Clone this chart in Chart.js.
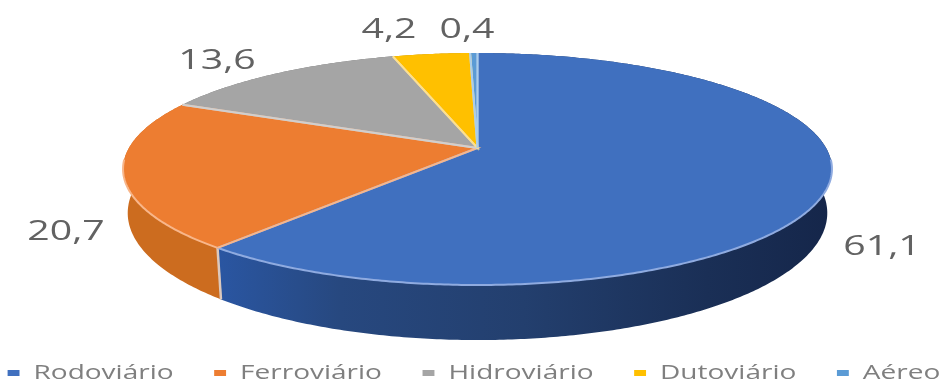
<!DOCTYPE html>
<html>
<head>
<meta charset="utf-8">
<script src="https://cdn.jsdelivr.net/npm/chart.js@4"></script>
<style>
  html, body { margin: 0; background: #fff; }
  canvas { display: block; }
</style>
</head>
<body>
<canvas id="myChart" width="942" height="383"></canvas>
<script>
const categories = ["Rodoviário", "Ferroviário", "Hidroviário", "Dutoviário", "Aéreo"];
const shares = [61.1, 20.7, 13.6, 4.2, 0.4];

const topColors = ["#4070bf", "#ed7d31", "#a5a5a5", "#ffc000", "#5b9bd5"];
const rimColors = ["#8fabe0", "#f8b68a", "#cfcfcf", "#ffe08a", "#a9cdec"];
const wallColors = ["#1b3158", "#cc6c1f", "#777777", "#bf9000", "#3f77a8"];

// text is wide in this chart, so everything but the disc is drawn stretched
const stretch = 1.4;

// perspective of the disc, in canvas pixels
const disc = { cx: 477.5, apexY: 148, radius: 348.6, k: 112.2, tilt: 0.181 };
const floor = { cx: 477.5, apexY: 190, radius: 344, k: 122.9, tilt: 0.181 };

// only the front of the disc has a light rim
const rimFrom = Math.PI / 2 + 0.1;
const rimTo = Math.PI * 1.5 - 0.1;

// centres of the value labels
const labelSpots = [[882, 247], [66, 232], [217, 61], [389, 30], [467, 30]];

function project(plane, theta) {
  const u = Math.sin(theta);
  const v = -Math.cos(theta);
  const d = 1 - plane.tilt * v;
  return [plane.cx + plane.radius * u / d, plane.apexY + plane.k * v / d];
}

// arc angles from Chart.js start at -90deg, here 0 is the top of the disc
function arcRange(arc) {
  return [arc.startAngle + Math.PI / 2, arc.endAngle + Math.PI / 2];
}

function arcPoints(plane, from, to) {
  const steps = Math.max(2, Math.ceil((to - from) / 0.01));
  const pts = [];
  for (let i = 0; i <= steps; i++) {
    pts.push(project(plane, from + (to - from) * i / steps));
  }
  return pts;
}

function trace(ctx, pts) {
  pts.forEach(p => ctx.lineTo(p[0], p[1]));
}

function drawWall(ctx, arc, index) {
  const [from, to] = arcRange(arc);
  ctx.beginPath();
  trace(ctx, arcPoints(disc, from, to));
  trace(ctx, arcPoints(floor, from, to).reverse());
  ctx.closePath();
  if (index === 0) {
    const g = ctx.createLinearGradient(218, 0, 830, 0);
    g.addColorStop(0, "#2a56a2");
    g.addColorStop(0.2, "#27487f");
    g.addColorStop(0.5, "#233f6e");
    g.addColorStop(0.8, "#1a2f56");
    g.addColorStop(1, "#15264a");
    ctx.fillStyle = g;
  } else {
    ctx.fillStyle = wallColors[index];
  }
  ctx.fill();
}

function drawTop(ctx, arc) {
  const [from, to] = arcRange(arc);
  ctx.beginPath();
  ctx.moveTo(disc.cx, disc.apexY);
  trace(ctx, arcPoints(disc, from, to));
  ctx.closePath();
  ctx.fillStyle = arc.options.backgroundColor;
  ctx.fill();
}

function drawEdges(ctx, arc) {
  const [from, to] = arcRange(arc);
  const start = project(disc, from);
  const end = project(disc, to);
  ctx.strokeStyle = arc.options.borderColor;
  ctx.lineWidth = arc.options.borderWidth;
  ctx.beginPath();
  ctx.moveTo(start[0], start[1]);
  ctx.lineTo(disc.cx, disc.apexY);
  ctx.lineTo(end[0], end[1]);
  ctx.stroke();
  const a = Math.max(from, rimFrom);
  const b = Math.min(to, rimTo);
  if (b > a) {
    ctx.beginPath();
    trace(ctx, arcPoints(disc, a, b));
    ctx.stroke();
  }
}

const pie3d = {
  id: "pie3d",
  beforeDraw(chart) {
    const ctx = chart.ctx;
    ctx.save();
    // moves the legend row down to the edge and flush left
    ctx.translate(-33, 10);
    ctx.scale(stretch, 1);
  },
  beforeDatasetsDraw(chart) {
    const ctx = chart.ctx;
    const arcs = chart.getDatasetMeta(0).data;
    ctx.save();
    ctx.setTransform(1, 0, 0, 1, 0, 0);

    arcs.forEach((arc, i) => drawWall(ctx, arc, i));

    // seam between the two visible wall pieces
    const seam = arcRange(arcs[0])[1];
    const a = project(disc, seam);
    const b = project(floor, seam);
    ctx.beginPath();
    ctx.moveTo(a[0], a[1]);
    ctx.lineTo(b[0], b[1]);
    ctx.strokeStyle = "#dcc8bc";
    ctx.lineWidth = 2.5;
    ctx.stroke();

    arcs.forEach(arc => drawTop(ctx, arc));
    arcs.forEach(arc => drawEdges(ctx, arc));

    // value labels
    ctx.fillStyle = "#626262";
    ctx.font = "28px 'Open Sans'";
    ctx.textAlign = "center";
    ctx.textBaseline = "middle";
    shares.forEach((v, i) => {
      ctx.save();
      ctx.translate(labelSpots[i][0], labelSpots[i][1]);
      ctx.scale(stretch, 1);
      ctx.fillText(v.toFixed(1).replace(".", ","), 0, 0);
      ctx.restore();
    });
    ctx.restore();
    return false;
  },
  afterDraw(chart) {
    chart.ctx.restore();
  }
};

const myChart = new Chart(document.querySelector("#myChart").getContext("2d"), {
  type: "pie",
  data: {
    labels: categories,
    datasets: [{
      data: shares,
      backgroundColor: topColors,
      borderColor: rimColors,
      borderWidth: 2
    }]
  },
  options: {
    responsive: false,
    animation: false,
    layout: { padding: { right: 100 } },
    plugins: {
      tooltip: { enabled: false },
      legend: {
        position: "bottom",
        align: "start",
        labels: {
          usePointStyle: true,
          pointStyle: "rect",
          pointStyleWidth: 8.5,
          boxHeight: 6,
          padding: 29,
          color: "#7f7f7f",
          font: { family: "'Open Sans'", size: 20 },
          generateLabels(chart) {
            const items = Chart.overrides.pie.plugins.legend.labels.generateLabels(chart);
            return items.map(item => ({ ...item, lineWidth: 0 }));
          }
        }
      }
    }
  },
  plugins: [pie3d]
});
</script>
</body>
</html>
